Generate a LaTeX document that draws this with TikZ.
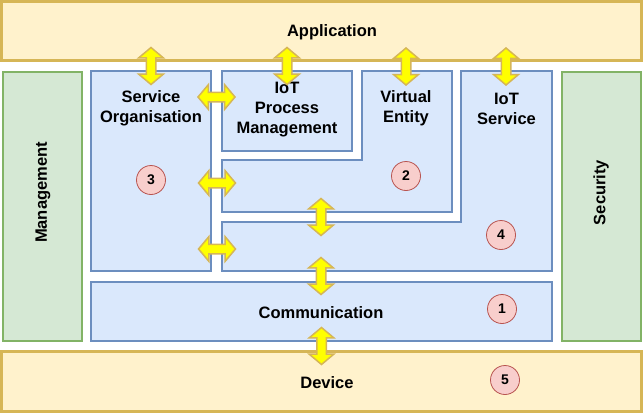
\documentclass[tikz,border=0pt]{standalone}
\usepackage{fontspec}
\setmainfont{Liberation Sans}
\usepackage{tikz}
\usetikzlibrary{calc, shapes.arrows}

\definecolor{boxfill}{HTML}{DAE8FC}
\definecolor{boxline}{HTML}{6C8EBF}
\definecolor{layfill}{HTML}{FFF2CC}
\definecolor{layline}{HTML}{D6B656}
\definecolor{sidefill}{HTML}{D5E8D4}
\definecolor{sideline}{HTML}{82B366}
\definecolor{numfill}{HTML}{F8CECC}
\definecolor{numline}{HTML}{B85450}
\definecolor{arrfill}{HTML}{FFFF00}

\tikzset{
    layer/.style={draw=layline, fill=layfill, line width=3pt},
    side/.style={draw=sideline, fill=sidefill, line width=2pt},
    block/.style={draw=boxline, fill=boxfill, line width=2pt},
    lbl/.style={font=\fontsize{16.5}{20}\selectfont\bfseries, align=center, inner sep=0pt, yshift=-1.5pt},
    num/.style={circle, draw=numline, fill=numfill, line width=0.8pt, minimum size=29pt, inner sep=0pt, font=\fontsize{14}{16}\selectfont\bfseries},
    arrowshape/.style={double arrow, draw=layline, fill=arrfill, line width=1.5pt, minimum height=37pt, inner xsep=0pt, inner ysep=4pt, double arrow head extend=7.5pt, double arrow tip angle=100},
    dbl/.style={to path={let \p1=(\tikztostart), \p2=(\tikztotarget) in
        node[arrowshape, rotate={atan2(\y2-\y1,\x2-\x1)}] at ($(\p1)!.5!(\p2)$) {}}},
}

\begin{document}
\begin{tikzpicture}[x=1pt, y=-1pt]
    \useasboundingbox (0,0) rectangle (643,413);

    % layers and side bars
    \node (app) [layer, minimum width=640pt, minimum height=59pt] at (321.5,31) {};
    \node (dev) [layer, minimum width=640pt, minimum height=60pt] at (321.5,381.5) {};
    \node (mgmt) [side, minimum width=79pt, minimum height=269pt] at (42,206.5) {};
    \node (sec) [side, minimum width=79pt, minimum height=269pt] at (601,206.5) {};

    % functional groups
    \node (so) [block, minimum width=120pt, minimum height=200pt] at (151,171) {};
    \node (ipm) [block, minimum width=130pt, minimum height=80pt] at (287,111) {};
    \node (comm) [block, minimum width=461pt, minimum height=59pt] at (321.5,311.5) {};
    \draw [block] (222,222) -- (461,222) -- (461,71) -- (552,71) -- (552,271) -- (222,271) -- cycle;
    \draw [block] (222,160) -- (362,160) -- (362,71) -- (452,71) -- (452,212) -- (222,212) -- cycle;
    \coordinate (ve-n) at (406,71);
    \coordinate (ve-w) at (222,183);
    \coordinate (ve-s) at (321,212);
    \coordinate (is-n) at (506,71);
    \coordinate (is-w) at (222,249);
    \coordinate (is-nw) at (222,222);
    \coordinate (is-s) at (321,271);

    % texts
    \node (appl) [lbl] at (332,31) {Application};
    \node (devl) [lbl] at (327,381) {Device};
    \node (mgmtl) [lbl, rotate=90] at (43,191) {Management};
    \node (secl) [lbl, rotate=90] at (601,191) {Security};
    \node (sol) [lbl] at (151,107) {Service\\Organisation};
    \node (ipml) [lbl] at (287,108) {IoT\\Process\\Management};
    \node (vel) [lbl] at (406,107) {Virtual\\Entity};
    \node (isl) [lbl] at (506.5,107) {IoT\\Service};
    \node (comml) [lbl] at (321,311.5) {Communication};

    % numbers
    \node (n1) [num] at (502,309) {1};
    \node (n2) [num] at (406,176) {2};
    \node (n3) [num] at (151,180) {3};
    \node (n4) [num] at (501,235) {4};
    \node (n5) [num] at (505,380) {5};

    % interfaces
    \path (so.north) to[dbl] (so.north |- app.south);
    \path (ipm.north) to[dbl] (ipm.north |- app.south);
    \path (ve-n) to[dbl] (ve-n |- app.south);
    \path (is-n) to[dbl] (is-n |- app.south);
    \path (so.east |- 0,97) to[dbl] (ipm.west |- 0,97);
    \path (so.east |- ve-w) to[dbl] (ve-w);
    \path (so.east |- is-w) to[dbl] (is-w);
    \path (ve-s) to[dbl] (ve-s |- is-nw);
    \path (is-s) to[dbl] (is-s |- comm.north);
    \path (comm.south) to[dbl] (comm.south |- dev.north);
\end{tikzpicture}
\end{document}
